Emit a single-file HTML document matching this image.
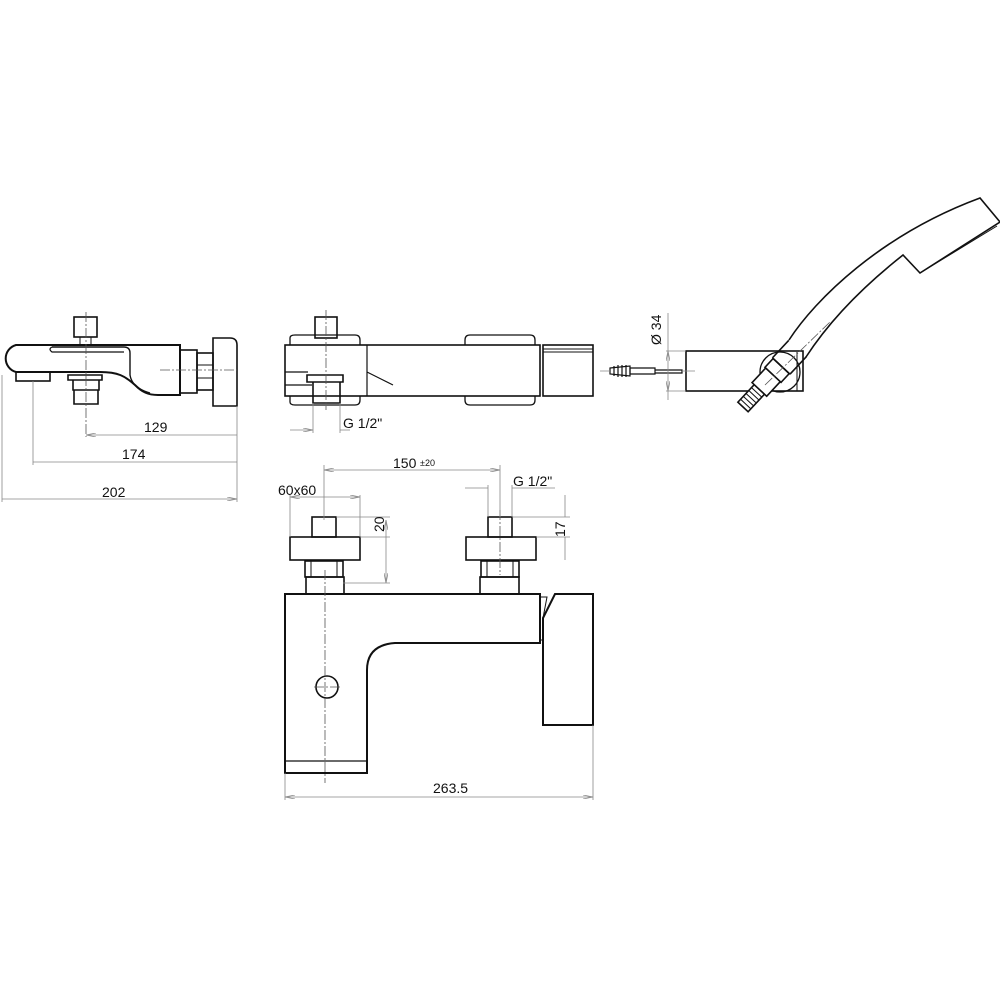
<!DOCTYPE html>
<html><head><meta charset="utf-8"><style>
html,body{margin:0;padding:0;background:#fff}
svg{display:block}
text{font-family:"Liberation Sans",sans-serif;fill:#111}
</style></head><body>
<svg width="1000" height="1000" viewBox="0 0 1000 1000" xmlns="http://www.w3.org/2000/svg">
<defs>
<marker id="a" viewBox="0 0 10 4" refX="10" refY="2" markerWidth="10" markerHeight="4" orient="auto-start-reverse" markerUnits="userSpaceOnUse"><path d="M0,0 L10,2 L0,4" fill="none" stroke="#888" stroke-width="0.8"/></marker>
</defs>
<g fill="none" stroke="#111" stroke-width="1.6">
<!-- LEFT SIDE VIEW -->
<rect x="74" y="317" width="23" height="20"/>
<rect x="80" y="337" width="11" height="8" stroke-width="1"/>
<path d="M180,345 L16,345 A14,14 0 0 0 16,372 L100,372 C118,372 125,376 135,385 C142,392 148,395 158,395 L180,395 Z" stroke-width="2"/>
<path d="M52,347 L124,347 Q130,347 130,353 L130,375 Q132,388 150,393" stroke-width="1.4"/>
<path d="M52,347 Q48,349 52,352 L124,352" stroke-width="1.2"/>
<rect x="16" y="372" width="34" height="9"/>
<path d="M68,375 L102,375 L102,380 L68,380 Z M73,380 L99,380 L99,390 L73,390 Z M74,390 L98,390 L98,404 L74,404 Z"/>
<rect x="180" y="350" width="17" height="43"/>
<rect x="197" y="353" width="16" height="37"/>
<path d="M197,365 L213,365 M197,378 L213,378" stroke-width="1"/>
<path d="M213,338 L230,338 Q237,338 237,345 L237,406 L213,406 Z"/>
<!-- TOP VIEW -->
<rect x="315" y="317" width="22" height="21"/>
<path d="M290,345 L290,338 Q290,335 295,335 L355,335 Q360,335 360,340 L360,345 M290,396 L290,402 Q290,405 295,405 L355,405 Q360,405 360,400 L360,396" stroke-width="1.3"/>
<path d="M465,345 L465,340 Q465,335 470,335 L530,335 Q535,335 535,340 L535,345 M465,396 L465,400 Q465,405 470,405 L530,405 Q535,405 535,400 L535,396" stroke-width="1.3"/>
<rect x="285" y="345" width="255" height="51"/>
<path d="M367,345 L367,396 M367,372 L393,385 M285,372 L308,372 M285,385 L312,385" stroke-width="1.2"/>
<path d="M307,375 L343,375 L343,382 L307,382 Z M313,382 L340,382 L340,403 L313,403 Z"/>
<rect x="543" y="345" width="50" height="51"/>
<path d="M543,349 L593,349 M543,352 L593,352" stroke-width="1"/>
<!-- FRONT VIEW -->
<rect x="312" y="517" width="24" height="20"/>
<rect x="290" y="537" width="70" height="23"/>
<rect x="305" y="561" width="38" height="16"/>
<path d="M311,561 L311,577 M337,561 L337,577" stroke-width="1"/>
<rect x="306" y="577" width="38" height="17"/>
<rect x="488" y="517" width="24" height="20"/>
<rect x="466" y="537" width="70" height="23"/>
<rect x="481" y="561" width="38" height="16"/>
<path d="M487,561 L487,577 M513,561 L513,577" stroke-width="1"/>
<rect x="480" y="577" width="39" height="17"/>
<path d="M285,594 L540,594 L540,643 L395,643 Q367,645 367,670 L367,773 L285,773 Z" stroke-width="2"/>
<path d="M285,761 L367,761" stroke-width="1.3"/>
<path d="M555,594 L593,594 L593,725 L543,725 L543,618 Z" stroke-width="2"/>
<path d="M540,597 L547,597 L543,618 L543,640 L540,640" stroke-width="1"/>
<circle cx="327" cy="687" r="11"/>
<!-- RIGHT: bracket and handshower -->
<rect x="686" y="351" width="117" height="40"/>
<circle cx="780" cy="372" r="20" stroke-width="1.3"/>
<path d="M797,352 L797,391" stroke-width="1"/>
<path d="M610,368 L630,366 L630,376 L610,374 Z" stroke-width="1.2"/>
<path d="M614,366 L614,376 M618,365 L618,377 M622,365 L622,377 M626,365 L626,377" stroke-width="1.2"/>
<path d="M630,368 L655,368 L655,374 L630,374 Z M655,370 L682,370 L682,373 L655,373 Z" stroke-width="1.2"/>
<path d="M789,340 C815,300 880,235 980,198 L1000,222 L920,273 L903,255 C865,285 830,320 806,357" stroke-width="1.6"/>
<path d="M920,273 L997,226" stroke-width="1"/>
<g transform="translate(743,407) rotate(-47)" fill="#fff">
<rect x="0" y="-7" width="24" height="14"/>
<path d="M4,-7 L4,7 M8,-7 L8,7 M12,-7 L12,7 M16,-7 L16,7 M20,-7 L20,7" stroke-width="1"/>
<rect x="24" y="-10" width="20" height="20"/>
<rect x="44" y="-11" width="12" height="22"/>
<path d="M56,-12 L80,-12 M56,12 L80,12 M56,-12 L56,12" />
</g>
</g>
<!-- centerlines -->
<g stroke="#555" stroke-width="0.8" stroke-dasharray="10,2,2,2" fill="none">
<path d="M86,312 L86,437 M160,370 L237,370"/>
<path d="M326,310 L326,410"/>
<path d="M325,570 L325,783 M314,687 L340,687"/>
<path d="M500,510 L500,575"/>
<path d="M765,385 L830,322"/>
</g>
<!-- dimension lines -->
<g stroke="#888" stroke-width="0.8" fill="none">
<path d="M237,406 L237,502 M33,381 L33,465 M2,375 L2,502"/>
<path d="M86,435 L237,435 M33,462 L237,462 M2,499 L237,499" marker-start="url(#a)" marker-end="url(#a)"/>
<path d="M313,403 L313,433 M340,403 L340,433"/>
<path d="M290,430 L313,430" marker-end="url(#a)"/><path d="M340,430 L350,430" />
<path d="M324,465 L324,520 M500,465 L500,517 M290,495 L290,537 M360,495 L360,537"/>
<path d="M324,470 L500,470" marker-start="url(#a)" marker-end="url(#a)"/>
<path d="M290,497 L360,497" marker-start="url(#a)" marker-end="url(#a)"/>
<path d="M360,537 L390,537 M343,583 L390,583 M336,517 L390,517"/>
<path d="M386,520 L386,583" marker-start="url(#a)" marker-end="url(#a)"/>
<path d="M488,485 L488,517 M512,485 L512,517 M465,488 L488,488 M512,488 L555,488"/>
<path d="M512,517 L570,517 M536,537 L570,537"/>
<path d="M565,495 L565,517 M565,537 L565,560"/>
<path d="M285,773 L285,800 M593,725 L593,800"/>
<path d="M285,797 L593,797" marker-start="url(#a)" marker-end="url(#a)"/>
<path d="M666,351 L686,351 M666,391 L686,391 M668,313 L668,351 M668,391 L668,400"/>
<path d="M668,351 L668,391" marker-start="url(#a)" marker-end="url(#a)"/>
<path d="M600,371 L610,371 M682,371 L695,371"/>
</g>
<g font-size="14">
<text x="144" y="432">129</text>
<text x="122" y="459">174</text>
<text x="102" y="497">202</text>
<text x="343" y="428">G  1/2"</text>
<text x="393" y="468">150</text><text x="420" y="466" font-size="9" fill="#777">±20</text>
<text x="278" y="495">60x60</text>
<text x="513" y="486">G  1/2"</text>
<text x="433" y="793">263.5</text>
<text transform="translate(384,532) rotate(-90)">20</text>
<text transform="translate(565,537) rotate(-90)">17</text>
<text transform="translate(661,345) rotate(-90)">Ø 34</text>
</g>
</svg>
</body></html>
